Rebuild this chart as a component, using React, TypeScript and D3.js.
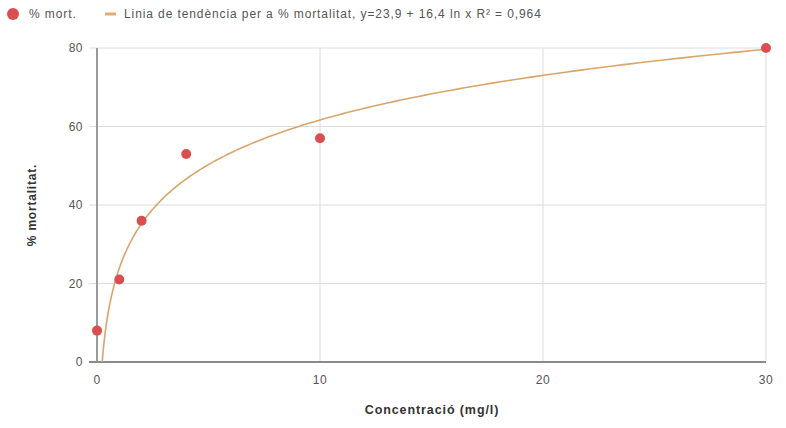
import React from "react";
import * as d3 from "d3";

const concentrations = [0, 1, 2, 4, 10, 30];
const mortality = [8, 21, 36, 53, 57, 80];
const trendCoefficients = [23.9, 16.4]; // y = a + b ln x
const xTicks = [0, 10, 20, 30];
const yTicks = [0, 20, 40, 60, 80];
const legendLabels = ["% mort.", "Linia de tendència per a % mortalitat, y=23,9 + 16,4 ln x R² = 0,964"];

const W = 786, H = 428;
const M = { left: 97, right: 20, top: 48, bottom: 66 };

export default function App() {
  const x = d3.scaleLinear().domain([0, 30]).range([M.left, W - M.right]);
  const y = d3.scaleLinear().domain([0, 80]).range([H - M.bottom, M.top]);
  const [a, b] = trendCoefficients;
  const x0 = Math.exp(-a / b);
  const samples = d3.range(0, 301).map(i => x0 * Math.pow(30 / x0, i / 300));
  const line = d3.line<number>().x(d => x(d)).y(d => y(a + b * Math.log(d)));
  const font = "Arial, 'Liberation Sans', sans-serif";
  return (
    <svg width={W} height={H} style={{ position: "absolute", left: 0, top: 0, background: "#fff" }} fontFamily={font}>
      {yTicks.filter(t => t > 0).map(t => (
        <line key={"gy" + t} x1={M.left - 8} x2={W - M.right} y1={y(t)} y2={y(t)} stroke="#dcdcdc" strokeWidth={1} />
      ))}
      {xTicks.filter(t => t > 0).map(t => (
        <line key={"gx" + t} x1={x(t)} x2={x(t)} y1={M.top} y2={H - M.bottom} stroke="#dcdcdc" strokeWidth={1} />
      ))}
      <line x1={M.left} x2={M.left} y1={M.top} y2={H - M.bottom} stroke="#9a9a9a" strokeWidth={2} />
      <line x1={M.left - 8} x2={W - M.right} y1={y(0)} y2={y(0)} stroke="#8a8a8a" strokeWidth={2} />
      {yTicks.map(t => (
        <text key={"ty" + t} x={M.left - 14} y={y(t) + 4} textAnchor="end" fontSize={12} letterSpacing={0.5} fill="#555">{t}</text>
      ))}
      {xTicks.map(t => (
        <text key={"tx" + t} x={x(t)} y={y(0) + 22} textAnchor="middle" fontSize={12} letterSpacing={0.5} fill="#555">{t}</text>
      ))}
      <path d={line(samples) || ""} fill="none" stroke="#dba46a" strokeWidth={1.6} />
      {concentrations.map((c, i) => (
        <circle key={"p" + i} cx={x(c)} cy={y(mortality[i])} r={5} fill="#d94f50" />
      ))}
      <text x={432} y={414} textAnchor="middle" fontSize={12.5} letterSpacing={0.9} fontWeight="bold" fill="#333">Concentració (mg/l)</text>
      <text transform={`translate(36,205) rotate(-90)`} textAnchor="middle" fontSize={12} letterSpacing={0.8} fontWeight="bold" fill="#333">% mortalitat.</text>
      <circle cx={13} cy={14} r={6} fill="#d94f50" />
      <text x={29} y={18} fontSize={12} letterSpacing={0.9} fill="#555">{legendLabels[0]}</text>
      <line x1={105} x2={116} y1={14} y2={14} stroke="#e3ab72" strokeWidth={3} />
      <text x={124} y={18} fontSize={12} letterSpacing={0.9} fill="#555">{legendLabels[1]}</text>
    </svg>
  );
}
